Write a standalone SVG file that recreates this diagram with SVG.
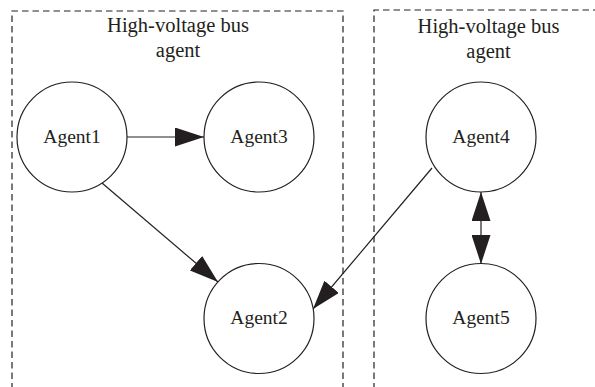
<svg xmlns="http://www.w3.org/2000/svg" width="595" height="387" viewBox="0 0 595 387">
<style>
.box{fill:none;stroke:#231f20;stroke-width:1.2;stroke-dasharray:6.5,4}
.node circle{fill:#fff;stroke:#231f20;stroke-width:1.2}
.lbl{font-family:"Liberation Serif","Times New Roman",serif;font-size:19.5px;fill:#231f20;text-anchor:middle}
.ttl{font-family:"Liberation Serif","Times New Roman",serif;font-size:20.5px;fill:#231f20;text-anchor:middle}
.edge{fill:none;stroke:#231f20;stroke-width:1.2}
</style>
<defs>
<marker id="ah" viewBox="0 0 29 19" markerWidth="29" markerHeight="19" refX="29" refY="9.5" orient="auto-start-reverse" markerUnits="userSpaceOnUse">
<path d="M0,0 L29,9.5 L0,19 z" fill="#231f20"/>
</marker>
</defs>
<rect width="595" height="387" fill="#fff"/>
<g id="group-left">
<path class="box" d="M12,400 L12,11 L343,11 L343,400"/>
<text class="ttl" x="178" y="32">High-voltage bus</text>
<text class="ttl" x="178" y="57">agent</text>
</g>
<g id="group-right">
<path class="box" d="M374,400 L374,10 L610,10"/>
<text class="ttl" x="488.5" y="33">High-voltage bus</text>
<text class="ttl" x="488.5" y="58">agent</text>
</g>
<g id="connectors">
<line class="edge" x1="127" y1="137" x2="204" y2="137" marker-end="url(#ah)"/>
<line class="edge" x1="102" y1="183" x2="218" y2="282" marker-end="url(#ah)"/>
<line class="edge" x1="432" y1="168" x2="313" y2="309" marker-end="url(#ah)"/>
<line class="edge" x1="481" y1="192" x2="481" y2="264" marker-start="url(#ah)" marker-end="url(#ah)"/>
</g>
<g id="agent1" class="node"><circle cx="72" cy="137" r="55"/><text class="lbl" x="72" y="143">Agent1</text></g>
<g id="agent3" class="node"><circle cx="259" cy="137" r="55"/><text class="lbl" x="259" y="143">Agent3</text></g>
<g id="agent2" class="node"><circle cx="259" cy="318.5" r="55"/><text class="lbl" x="259" y="324">Agent2</text></g>
<g id="agent4" class="node"><circle cx="481" cy="137" r="55"/><text class="lbl" x="481" y="143">Agent4</text></g>
<g id="agent5" class="node"><circle cx="481" cy="318.5" r="55"/><text class="lbl" x="481" y="324">Agent5</text></g>
</svg>
